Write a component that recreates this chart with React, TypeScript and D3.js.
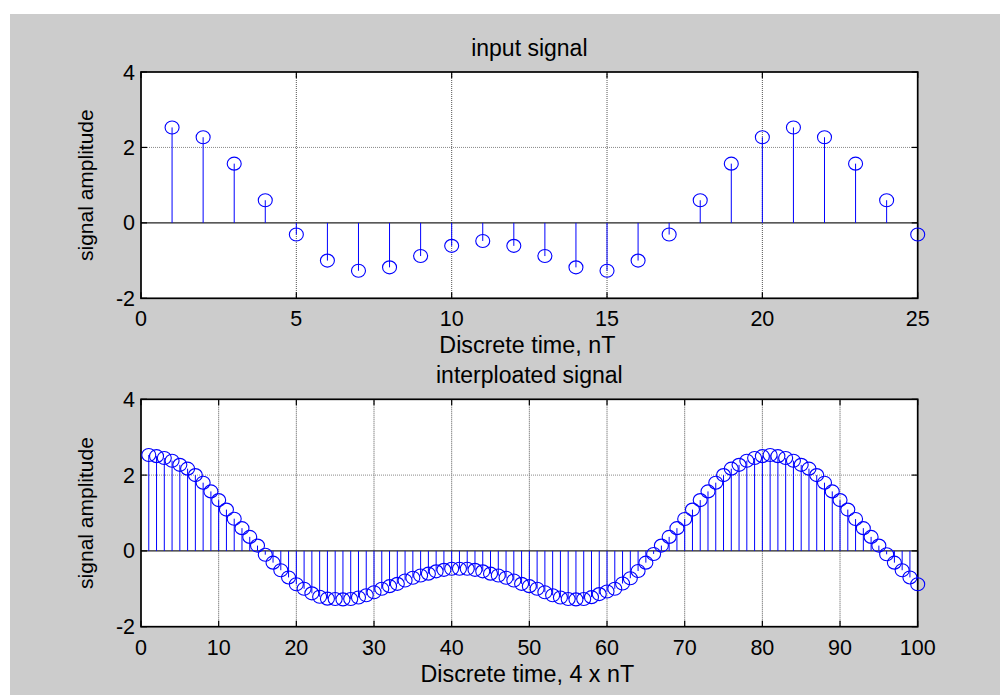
import React from "react";
import * as d3 from "d3";

// ---- Data ----
const inputValues: number[] = [
  2.53, 2.27, 1.57, 0.6, -0.31, -1.0, -1.27, -1.18, -0.88, -0.61, -0.48, -0.61, -0.88,
  -1.18, -1.27, -1.0, -0.31, 0.6, 1.57, 2.27, 2.53, 2.27, 1.57, 0.6, -0.31,
];

const interpValues: number[] = [
  2.53, 2.5, 2.45, 2.38, 2.27, 2.17, 2.0, 1.8, 1.57, 1.34,
  1.09, 0.85, 0.6, 0.37, 0.14, -0.1, -0.31, -0.51, -0.7, -0.88,
  -1.0, -1.12, -1.21, -1.26, -1.27, -1.28, -1.27, -1.23, -1.17, -1.09,
  -1.0, -0.93, -0.87, -0.78, -0.71, -0.65, -0.6, -0.54, -0.5, -0.47,
  -0.47, -0.47, -0.5, -0.54, -0.6, -0.65, -0.71, -0.78, -0.87, -0.93,
  -1.0, -1.09, -1.17, -1.23, -1.27, -1.28, -1.27, -1.22, -1.14, -1.07,
  -1.0, -0.86, -0.72, -0.53, -0.31, -0.08, 0.14, 0.37, 0.6, 0.84,
  1.09, 1.34, 1.57, 1.8, 2.0, 2.17, 2.27, 2.38, 2.45, 2.5,
  2.53, 2.5, 2.45, 2.38, 2.27, 2.17, 2.0, 1.8, 1.57, 1.34,
  1.09, 0.84, 0.6, 0.37, 0.14, -0.09, -0.31, -0.51, -0.7, -0.88,
];

const topXTicks = [0, 5, 10, 15, 20, 25];
const bottomXTicks = [0, 10, 20, 30, 40, 50, 60, 70, 80, 90, 100];
const yTicks = [-2, 0, 2, 4];

const topTitle = "input signal";
const topXLabel = "Discrete time, nT";
const bottomTitle = "interploated signal";
const bottomXLabel = "Discrete time, 4 x nT";
const yLabel = "signal amplitude";

const FONT = "'Liberation Sans', Arial, Helvetica, sans-serif";
const BLUE = "#0000ff";

type PanelProps = {
  values: number[];
  xMax: number;
  xTicks: number[];
  top: number;
  bottom: number;
  title: string;
  xLabel: string;
};

const LEFT = 141;
const RIGHT = 917.7;
const TICK = 6;

function Panel({ values, xMax, xTicks, top, bottom, title, xLabel }: PanelProps) {
  const x = d3.scaleLinear().domain([0, xMax]).range([LEFT, RIGHT]);
  const y = d3.scaleLinear().domain([-2, 4]).range([bottom, top]);
  const cx = (LEFT + RIGHT) / 2;
  const cy = (top + bottom) / 2;
  return (
    <g>
      <rect x={LEFT} y={top} width={RIGHT - LEFT} height={bottom - top} fill="#ffffff" />
      {/* grid */}
      {xTicks
        .filter((t) => t !== 0 && t !== xMax)
        .map((t) => (
          <line key={"gx" + t} x1={x(t)} x2={x(t)} y1={top} y2={bottom}
            stroke="#555" strokeWidth={1} strokeDasharray="1,1" />
        ))}
      {yTicks
        .filter((t) => t !== -2 && t !== 4 && t !== 0)
        .map((t) => (
          <line key={"gy" + t} x1={LEFT} x2={RIGHT} y1={y(t)} y2={y(t)}
            stroke="#888" strokeWidth={1} strokeDasharray="1,1" />
        ))}
      {/* baseline */}
      <line x1={LEFT} x2={RIGHT} y1={y(0)} y2={y(0)} stroke="#222" strokeWidth={1.4} />
      {/* stems */}
      {values.map((v, i) => (
        <line key={"s" + i} x1={x(i + 1)} x2={x(i + 1)} y1={y(0)} y2={y(v)}
          stroke={BLUE} strokeWidth={1} />
      ))}
      {/* box */}
      <rect x={LEFT} y={top} width={RIGHT - LEFT} height={bottom - top}
        fill="none" stroke="#000" strokeWidth={1.7} />
      {/* ticks */}
      {xTicks.map((t) => (
        <g key={"tx" + t}>
          <line x1={x(t)} x2={x(t)} y1={bottom} y2={bottom - TICK} stroke="#000" strokeWidth={1.2} />
          <line x1={x(t)} x2={x(t)} y1={top} y2={top + TICK} stroke="#000" strokeWidth={1.2} />
          <text x={x(t)} y={bottom + 28} textAnchor="middle" fontFamily={FONT} fontSize={21.5} fill="#000">
            {t}
          </text>
        </g>
      ))}
      {yTicks.map((t) => (
        <g key={"ty" + t}>
          <line x1={LEFT} x2={LEFT + TICK} y1={y(t)} y2={y(t)} stroke="#000" strokeWidth={1.2} />
          <line x1={RIGHT} x2={RIGHT - TICK} y1={y(t)} y2={y(t)} stroke="#000" strokeWidth={1.2} />
          <text x={LEFT - 6} y={y(t) + 7.5} textAnchor="end" fontFamily={FONT} fontSize={21.5} fill="#000">
            {t}
          </text>
        </g>
      ))}
      {/* markers */}
      {values.map((v, i) => (
        <ellipse key={"m" + i} cx={x(i + 1)} cy={y(v)} rx={7} ry={6.5}
          fill="none" stroke={BLUE} strokeWidth={1.1} />
      ))}
      {/* labels */}
      <text x={cx} y={top - 16.5} textAnchor="middle" fontFamily={FONT} fontSize={23} fill="#000">
        {title}
      </text>
      <text x={cx - 2} y={bottom + 55} textAnchor="middle" fontFamily={FONT} fontSize={23.3} fill="#000">
        {xLabel}
      </text>
      <text transform={`translate(93,${cy}) rotate(-90)`} textAnchor="middle"
        fontFamily={FONT} fontSize={21} fill="#000">
        {yLabel}
      </text>
    </g>
  );
}

export default function App() {
  return (
    <svg width={1000} height={695} style={{ position: "absolute", left: 0, top: 0, display: "block" }}
      xmlns="http://www.w3.org/2000/svg">
      <rect x={0} y={0} width={1000} height={695} fill="#ffffff" />
      <rect x={10} y={14} width={990} height={681} fill="#cccccc" />
      <Panel values={inputValues} xMax={25} xTicks={topXTicks} top={72} bottom={298.3}
        title={topTitle} xLabel={topXLabel} />
      <Panel values={interpValues} xMax={100} xTicks={bottomXTicks} top={399.3} bottom={626.7}
        title={bottomTitle} xLabel={bottomXLabel} />
    </svg>
  );
}
